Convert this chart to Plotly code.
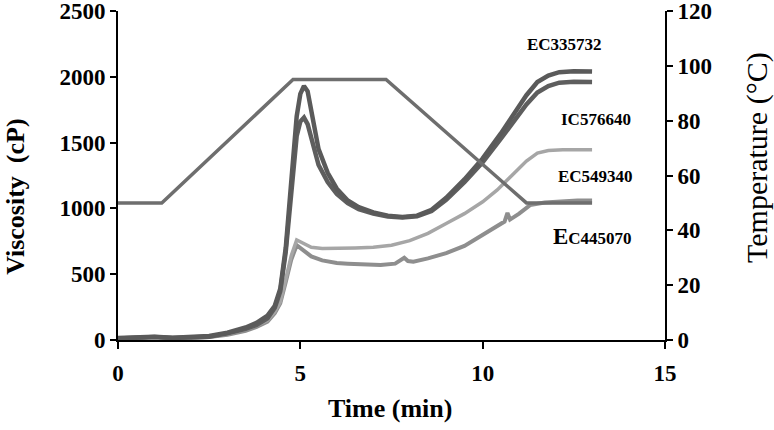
#!/usr/bin/env python

import plotly.graph_objects as go


# Viscosity traces (cP), each with its own time points (min).
TIME_DARK = [0, 0.5, 1.0, 1.5, 2.0, 2.5, 3.0, 3.5, 3.8, 4.1, 4.3, 4.45, 4.6, 4.75, 4.9, 5.0,
             5.1, 5.2, 5.35, 5.5, 5.75, 6.0, 6.3, 6.6, 7.0, 7.4, 7.8, 8.2, 8.6, 9.0, 9.5,
             10.0, 10.5, 10.8, 11.2, 11.5, 11.8, 12.1, 12.5, 13.0]
EC335732 = [15, 18, 25, 18, 20, 30, 55, 95, 130, 185, 260, 390, 700, 1230, 1700, 1870,
            1930, 1890, 1680, 1450, 1270, 1150, 1060, 1010, 970, 945, 935, 945, 990, 1080, 1220,
            1380, 1570, 1690, 1860, 1960, 2010, 2035, 2042, 2040]
IC576640 = [12, 15, 22, 15, 18, 25, 50, 85, 115, 165, 245, 370, 670, 1160, 1550, 1660,
            1690, 1640, 1470, 1330, 1200, 1110, 1040, 995, 960, 938, 930, 940, 980, 1065, 1200,
            1350, 1530, 1640, 1790, 1880, 1930, 1955, 1962, 1960]

TIME_549 = [0, 0.5, 1, 1.5, 2, 2.5, 3, 3.5, 3.8, 4.1, 4.3, 4.45, 4.6, 4.75, 4.9, 5.05, 5.3,
            5.6, 6.0, 6.5, 7.0, 7.5, 8.0, 8.5, 9.0, 9.5, 10.0, 10.4, 10.8, 11.2, 11.5, 11.8,
            12.2, 12.6, 13.0]
EC549340 = [12, 15, 25, 15, 18, 25, 45, 80, 110, 150, 215, 290, 460, 640, 760, 740, 705,
            695, 700, 700, 705, 720, 755, 810, 885, 960, 1050, 1140, 1250, 1360, 1420, 1440,
            1445, 1448, 1445]

TIME_445 = [0, 0.5, 1, 1.5, 2, 2.5, 3, 3.5, 3.8, 4.1, 4.3, 4.45, 4.6, 4.75, 4.9, 5.05, 5.3,
            5.6, 6.0, 6.3, 6.7, 7.2, 7.6, 7.85, 7.95, 8.1, 8.5, 9.0, 9.5, 9.9, 10.3, 10.6,
            10.68, 10.75, 11.0, 11.3, 11.7, 12.2, 12.6, 13.0]
EC445070 = [10, 12, 22, 12, 15, 22, 40, 70, 100, 140, 205, 280, 440, 610, 720, 690, 635,
            605, 585, 580, 575, 570, 580, 625, 600, 595, 620, 660, 715, 780, 845, 900,
            965, 915, 960, 1025, 1045, 1055, 1060, 1060]

# Temperature profile (°C).
TIME_TEMP = [0, 1.2, 4.8, 7.35, 11.2, 13.0]
TEMP = [50, 50, 95, 95, 50, 50]

# Labels placed at the right end of the curves.
LABELS = ['EC335732', 'IC576640', 'EC549340',
          "<span style='font-size:23px'>E</span>C445070"]
LABEL_X = [12.25, 13.1, 13.1, 13.0]
LABEL_Y = [2242, 1672, 1246, 783]

SERIF = 'Liberation Serif'


def main():
    fig = go.Figure()

    fig.add_trace(go.Scatter(x=TIME_TEMP, y=TEMP, yaxis='y2', mode='lines',
                             line=dict(color='#6e6e6e', width=3.5)))
    fig.add_trace(go.Scatter(x=TIME_445, y=EC445070, mode='lines',
                             line=dict(color='#8e8e8e', width=4)))
    fig.add_trace(go.Scatter(x=TIME_549, y=EC549340, mode='lines',
                             line=dict(color='#a6a6a6', width=3.5)))
    fig.add_trace(go.Scatter(x=TIME_DARK, y=IC576640, mode='lines',
                             line=dict(color='#5e5e5e', width=4.5)))
    fig.add_trace(go.Scatter(x=TIME_DARK, y=EC335732, mode='lines',
                             line=dict(color='#5a5a5a', width=4.5)))

    for text, x, y in zip(LABELS, LABEL_X, LABEL_Y):
        fig.add_annotation(x=x, y=y, text=text, showarrow=False,
                           font=dict(family=SERIF, size=17, color='black', weight='bold'))

    # axis titles as annotations: the originals sit off-centre
    title_pos = dict(xref='paper', yref='paper', xanchor='center', yanchor='middle',
                     showarrow=False)
    fig.add_annotation(x=0.497, y=-0.207, text='Time (min)', **title_pos,
                       font=dict(family=SERIF, size=26, color='black', weight='bold'))
    fig.add_annotation(x=-0.1865, y=0.435, text='Viscosity  (cP)', textangle=-90, **title_pos,
                       font=dict(family=SERIF, size=26, color='black', weight='bold'))
    fig.add_annotation(x=1.168, y=0.556, text='Temperature (°C)', textangle=-90, **title_pos,
                       font=dict(family=SERIF, size=30, color='black'))

    tick_font = dict(family=SERIF, size=23, color='black', weight='bold')
    axis_common = dict(showline=True, linecolor='black', linewidth=2, ticks='outside',
                       tickcolor='black', tickwidth=2, showgrid=False, zeroline=False,
                       tickfont=tick_font, automargin=False, ticklabeloverflow='allow')

    fig.update_layout(
        width=774, height=430,
        margin=dict(l=118, r=109, t=11, b=90),
        plot_bgcolor='white', paper_bgcolor='white',
        showlegend=False,
        xaxis=dict(range=[0, 15], tickvals=[0, 5, 10, 15], ticklen=7, ticklabelstandoff=4,
                   **axis_common),
        yaxis=dict(range=[0, 2500], tickvals=[0, 500, 1000, 1500, 2000, 2500], ticklen=6,
                   **axis_common),
        yaxis2=dict(range=[0, 120], tickvals=[0, 20, 40, 60, 80, 100, 120], ticklen=6,
                    overlaying='y', side='right', **axis_common),
    )

    # drop the default page margin so the figure sits at the window's corner
    fig.write_html('out.html', config={'displayModeBar': False},
                   post_script="document.body.style.margin='0';")


if __name__ == '__main__':
    main()
